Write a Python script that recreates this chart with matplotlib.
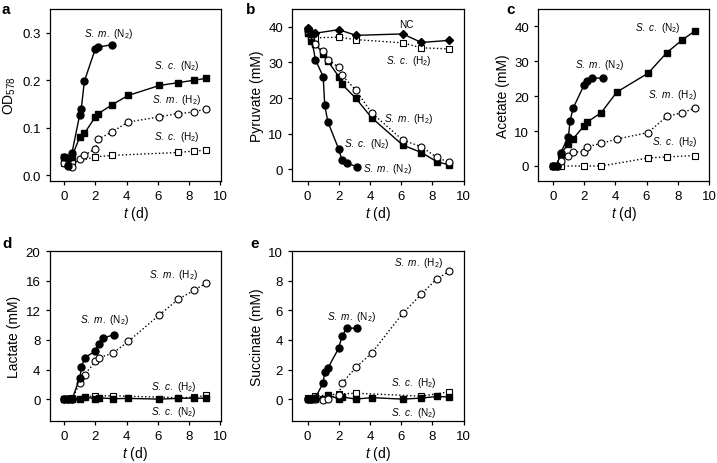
import matplotlib
matplotlib.use("Agg")
import matplotlib.pyplot as plt

plt.rcParams['font.family'] = ['Liberation Sans', 'DejaVu Sans']
plt.rcParams['mathtext.fontset'] = 'custom'
plt.rcParams['mathtext.rm'] = 'Liberation Sans'
plt.rcParams['mathtext.it'] = 'Liberation Sans:italic'
plt.rcParams['mathtext.bf'] = 'Liberation Sans:bold'

# ---------------- Panel a: OD578 ----------------
a_sm_n2_t = [0, 0.25, 0.5, 1.0, 1.1, 1.3, 2.0, 2.2, 3.1]
a_sm_n2_y = [0.038, 0.020, 0.046, 0.127, 0.139, 0.198, 0.266, 0.270, 0.275]
a_sc_n2_t = [0, 0.25, 0.5, 1.0, 1.3, 2.0, 2.2, 3.1, 4.1, 6.1, 7.3, 8.3, 9.1]
a_sc_n2_y = [0.038, 0.036, 0.039, 0.080, 0.088, 0.123, 0.130, 0.149, 0.168, 0.189, 0.195, 0.200, 0.204]
a_sm_h2_t = [0, 0.25, 0.5, 1.0, 1.3, 2.0, 2.2, 3.1, 4.1, 6.1, 7.3, 8.3, 9.1]
a_sm_h2_y = [0.025, 0.022, 0.018, 0.035, 0.042, 0.056, 0.076, 0.092, 0.112, 0.123, 0.130, 0.133, 0.140]
a_sc_h2_t = [0, 0.25, 0.5, 2.0, 3.1, 7.3, 8.3, 9.1]
a_sc_h2_y = [0.025, 0.026, 0.026, 0.039, 0.042, 0.048, 0.051, 0.053]

# ---------------- Panel b: Pyruvate ----------------
b_nc_t = [0, 0.2, 0.5, 2.0, 3.1, 6.1, 7.3, 9.1]
b_nc_y = [39.6, 38.6, 38.2, 39.2, 37.6, 38.0, 35.6, 36.2]
b_sc_h2_t = [0, 0.2, 0.5, 2.0, 3.1, 6.1, 7.3, 9.1]
b_sc_h2_y = [38.4, 37.2, 36.9, 37.1, 36.4, 35.5, 34.1, 33.8]
b_sc_n2_t = [0, 0.2, 0.5, 1.0, 1.3, 2.0, 2.2, 3.1, 4.1, 6.1, 7.3, 8.3, 9.1]
b_sc_n2_y = [38.4, 36.0, 35.1, 32.5, 30.4, 26.0, 23.9, 19.9, 14.5, 6.8, 4.7, 2.1, 1.2]
b_sm_h2_t = [0, 0.2, 0.5, 1.0, 1.3, 2.0, 2.2, 3.1, 4.1, 6.1, 7.3, 8.3, 9.1]
b_sm_h2_y = [38.9, 37.5, 35.3, 33.1, 30.8, 28.6, 26.4, 22.2, 15.9, 8.2, 6.3, 3.3, 1.9]
b_sm_n2_t = [0, 0.2, 0.5, 1.0, 1.1, 1.3, 2.0, 2.2, 2.5, 3.2]
b_sm_n2_y = [39.5, 38.0, 30.8, 26.0, 18.0, 13.3, 5.6, 2.6, 1.7, 0.7]

# ---------------- Panel c: Acetate ----------------
c_sm_n2_t = [0, 0.25, 0.5, 1.0, 1.1, 1.3, 2.0, 2.2, 2.5, 3.2]
c_sm_n2_y = [0, 0, 3.8, 8.4, 12.9, 16.6, 23.2, 24.5, 25.2, 25.2]
c_sc_n2_t = [0, 0.25, 0.5, 1.0, 1.3, 2.0, 2.2, 3.1, 4.1, 6.1, 7.3, 8.3, 9.1]
c_sc_n2_y = [0, 0, 3.4, 6.4, 7.8, 11.5, 12.6, 15.3, 21.2, 26.6, 32.5, 36.2, 38.7]
c_sm_h2_t = [0, 0.25, 0.5, 1.0, 1.3, 2.0, 2.2, 3.1, 4.1, 6.1, 7.3, 8.3, 9.1]
c_sm_h2_y = [0, 0, 1.4, 2.9, 4.0, 4.1, 5.5, 6.5, 7.7, 9.6, 14.2, 15.3, 16.6]
c_sc_h2_t = [0, 0.25, 0.5, 2.0, 3.1, 6.1, 7.3, 9.1]
c_sc_h2_y = [0, 0, 0, 0, 0, 2.3, 2.6, 3.0]

# ---------------- Panel d: Lactate ----------------
d_sm_n2_t = [0, 0.25, 0.5, 1.0, 1.1, 1.3, 2.0, 2.2, 2.5, 3.2]
d_sm_n2_y = [0, 0, 0, 2.9, 4.3, 5.6, 6.5, 7.5, 8.3, 8.7]
d_sm_h2_t = [0, 0.25, 0.5, 1.0, 1.3, 2.0, 2.2, 3.1, 4.1, 6.1, 7.3, 8.3, 9.1]
d_sm_h2_y = [0, 0, 0, 2.2, 3.3, 5.1, 5.6, 6.2, 7.8, 11.4, 13.5, 14.7, 15.7]
d_sc_h2_t = [0, 0.25, 0.5, 2.0, 3.1, 7.3, 8.3, 9.1]
d_sc_h2_y = [0.05, 0.05, 0.1, 0.45, 0.45, 0.2, 0.25, 0.5]
d_sc_n2_t = [0, 0.25, 0.5, 1.0, 1.3, 2.0, 2.2, 3.1, 4.1, 6.1, 7.3, 8.3, 9.1]
d_sc_n2_y = [0, 0, 0, 0, 0.35, 0, 0.2, 0.05, 0.1, 0, 0.1, 0.15, 0.1]

# ---------------- Panel e: Succinate ----------------
e_sm_n2_t = [0, 0.25, 0.5, 1.0, 1.1, 1.3, 2.0, 2.2, 2.5, 3.2]
e_sm_n2_y = [0, 0, 0.1, 1.1, 1.85, 2.1, 3.45, 4.25, 4.8, 4.8]
e_sm_h2_t = [0, 0.25, 0.5, 1.0, 1.3, 2.0, 2.2, 3.1, 4.1, 6.1, 7.3, 8.3, 9.1]
e_sm_h2_y = [0, 0, 0, -0.05, 0, 0.3, 1.06, 2.15, 3.1, 5.8, 7.1, 8.15, 8.65]
e_sc_h2_t = [0, 0.25, 0.5, 2.0, 3.1, 7.3, 9.1]
e_sc_h2_y = [0.05, 0.1, 0.2, 0.35, 0.4, 0.2, 0.5]
e_sc_n2_t = [0, 0.25, 0.5, 1.0, 1.3, 2.0, 2.2, 3.1, 4.1, 6.1, 7.3, 8.3, 9.1]
e_sc_n2_y = [0, 0, 0, 0, 0.3, 0, 0.15, 0, 0.1, 0, 0.07, 0.18, 0.14]

SM_N2 = r"$\it{S.\ m.}$ (N$_2$)"
SC_N2 = r"$\it{S.\ c.}$ (N$_2$)"
SM_H2 = r"$\it{S.\ m.}$ (H$_2$)"
SC_H2 = r"$\it{S.\ c.}$ (H$_2$)"

W, H = 717, 464
fig = plt.figure(figsize=(W / 100, H / 100), dpi=100)

def make_ax(x0, y0, x1, y1):
    # pixel box -> figure fraction
    return fig.add_axes([x0 / W, 1 - y1 / H, (x1 - x0) / W, (y1 - y0) / H])

LW = 1.0
MS = 5.0

def filled_circ(ax, t, y):
    ax.plot(t, y, '-', color='black', lw=LW, marker='o', ms=MS, mfc='black', mec='black', zorder=5)

def open_circ(ax, t, y):
    ax.plot(t, y, ':', color='black', lw=LW, marker='o', ms=MS, mfc='white', mec='black', mew=0.8, zorder=4)

def filled_sq(ax, t, y):
    ax.plot(t, y, '-', color='black', lw=LW, marker='s', ms=MS - 0.3, mfc='black', mec='black', zorder=3)

def open_sq(ax, t, y):
    ax.plot(t, y, ':', color='black', lw=LW, marker='s', ms=MS - 0.3, mfc='white', mec='black', mew=0.8, zorder=2)

def style(ax, ylabel, xlim, ylim, yticks, ylabels=None):
    ax.set_xlim(*xlim)
    ax.set_ylim(*ylim)
    ax.set_xticks([0, 2, 4, 6, 8, 10])
    ax.set_yticks(yticks)
    if ylabels is not None:
        ax.set_yticklabels(ylabels)
    ax.tick_params(direction='out', length=3.0, width=0.9, labelsize=9.5, pad=3.5,
                   top=False, right=False)
    for s in ax.spines.values():
        s.set_linewidth(0.9)
    ax.set_xlabel(r"$t$ (d)", fontsize=10, labelpad=1.5)
    ax.set_ylabel(ylabel, fontsize=10, labelpad=3)

ANN = 7.2

# Panel a
ax = make_ax(50, 10, 221, 182)
open_sq(ax, a_sc_h2_t, a_sc_h2_y)
open_circ(ax, a_sm_h2_t, a_sm_h2_y)
filled_sq(ax, a_sc_n2_t, a_sc_n2_y)
filled_circ(ax, a_sm_n2_t, a_sm_n2_y)
style(ax, r"OD$_{578}$", (-0.9, 10.05), (-0.012, 0.35), [0, 0.1, 0.2, 0.3], ["0.0", "0.1", "0.2", "0.3"])
ax.text(2.85, 0.300, SM_N2, fontsize=ANN, ha='center', va='center')
ax.text(7.2, 0.233, SC_N2, fontsize=ANN, ha='center', va='center')
ax.text(7.2, 0.160, SM_H2, fontsize=ANN, ha='center', va='center')
ax.text(7.2, 0.083, SC_H2, fontsize=ANN, ha='center', va='center')

# Panel b
ax = make_ax(292, 10, 463.5, 182)
open_sq(ax, b_sc_h2_t, b_sc_h2_y)
open_circ(ax, b_sm_h2_t, b_sm_h2_y)
filled_sq(ax, b_sc_n2_t, b_sc_n2_y)
filled_circ(ax, b_sm_n2_t, b_sm_n2_y)
ax.plot(b_nc_t, b_nc_y, '-', color='black', lw=LW, marker='D', ms=MS - 0.8, mfc='black', mec='black', zorder=6)
style(ax, "Pyruvate (mM)", (-1.0, 10.0), (-3.3, 45), [0, 10, 20, 30, 40])
ax.text(6.35, 40.8, "NC", fontsize=ANN, ha='center', va='center')
ax.text(6.5, 30.7, SC_H2, fontsize=ANN, ha='center', va='center')
ax.text(6.5, 14.5, SM_H2, fontsize=ANN, ha='center', va='center')
ax.text(3.8, 7.3, SC_N2, fontsize=ANN, ha='center', va='center')
ax.text(5.1, 0.3, SM_N2, fontsize=ANN, ha='center', va='center')

# Panel c
ax = make_ax(538, 10, 709, 182)
open_sq(ax, c_sc_h2_t, c_sc_h2_y)
open_circ(ax, c_sm_h2_t, c_sm_h2_y)
filled_sq(ax, c_sc_n2_t, c_sc_n2_y)
filled_circ(ax, c_sm_n2_t, c_sm_n2_y)
style(ax, "Acetate (mM)", (-0.95, 10.0), (-4.3, 45), [0, 10, 20, 30, 40])
ax.text(6.75, 39.7, SC_N2, fontsize=ANN, ha='center', va='center')
ax.text(3.0, 29.2, SM_N2, fontsize=ANN, ha='center', va='center')
ax.text(7.65, 20.6, SM_H2, fontsize=ANN, ha='center', va='center')
ax.text(7.8, 7.2, SC_H2, fontsize=ANN, ha='center', va='center')

# Panel d
ax = make_ax(49.5, 252.3, 221, 422.3)
open_sq(ax, d_sc_h2_t, d_sc_h2_y)
open_circ(ax, d_sm_h2_t, d_sm_h2_y)
filled_sq(ax, d_sc_n2_t, d_sc_n2_y)
filled_circ(ax, d_sm_n2_t, d_sm_n2_y)
style(ax, "Lactate (mM)", (-0.95, 10.05), (-3.0, 20), [0, 4, 8, 12, 16, 20])
ax.text(7.0, 16.9, SM_H2, fontsize=ANN, ha='center', va='center')
ax.text(2.6, 10.8, SM_N2, fontsize=ANN, ha='center', va='center')
ax.text(7.0, 1.8, SC_H2, fontsize=ANN, ha='center', va='center')
ax.text(7.0, -1.6, SC_N2, fontsize=ANN, ha='center', va='center')

# Panel e
ax = make_ax(292, 252.3, 463.5, 422.3)
open_sq(ax, e_sc_h2_t, e_sc_h2_y)
open_circ(ax, e_sm_h2_t, e_sm_h2_y)
filled_sq(ax, e_sc_n2_t, e_sc_n2_y)
filled_circ(ax, e_sm_n2_t, e_sm_n2_y)
style(ax, "Succinate (mM)", (-1.0, 10.0), (-1.5, 10), [0, 2, 4, 6, 8, 10])
ax.text(7.1, 9.25, SM_H2, fontsize=ANN, ha='center', va='center')
ax.text(2.85, 5.6, SM_N2, fontsize=ANN, ha='center', va='center')
ax.text(6.8, 1.17, SC_H2, fontsize=ANN, ha='center', va='center')
ax.text(6.8, -0.86, SC_N2, fontsize=ANN, ha='center', va='center')

# Panel letters
for lab, (px, py) in {"a": (2, 3), "b": (246, 3), "c": (506, 3), "d": (2, 237), "e": (250, 237)}.items():
    fig.text(px / W, 1 - py / H, lab, fontsize=11, fontweight='bold', ha='left', va='top')

fig.savefig("out.png", dpi=100)
